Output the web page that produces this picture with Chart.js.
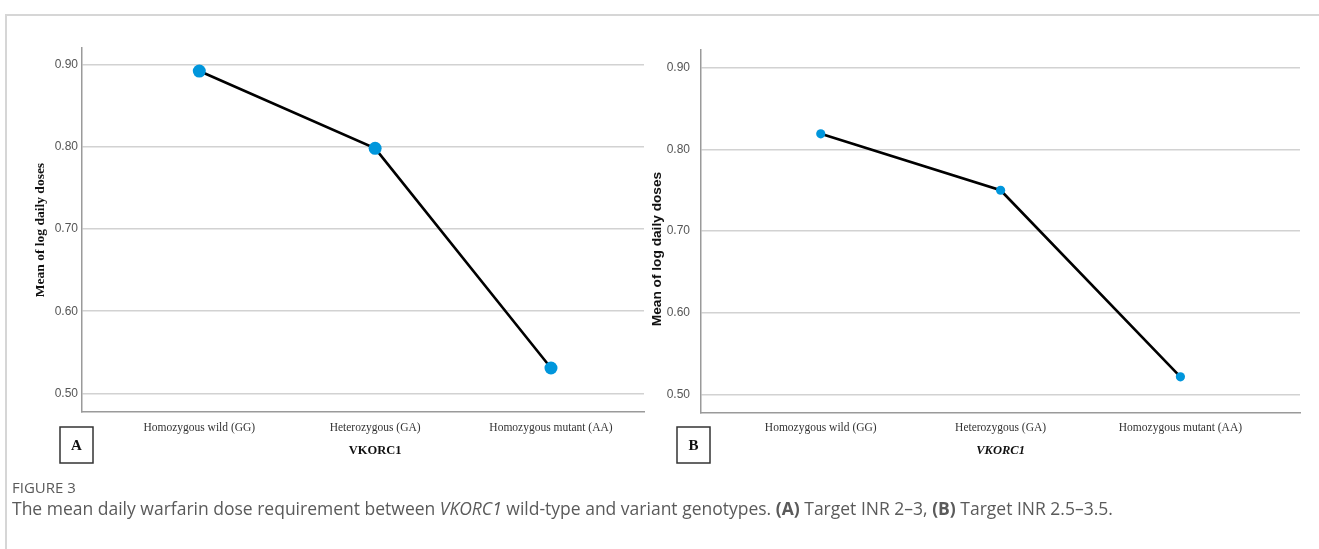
<!DOCTYPE html>
<html>
<head>
<meta charset="utf-8">
<title>Figure 3 - VKORC1</title>
<script src="https://cdn.jsdelivr.net/npm/chart.js@4.4.1/dist/chart.umd.min.js"></script>
<style>
  html, body { margin: 0; padding: 0; background: #fff; }
  body { width: 1319px; height: 549px; position: relative; overflow: hidden; font-family: "Open Sans", sans-serif; }
  #frame { position: absolute; left: 5px; top: 14px; width: 1400px; height: 600px; border: 2px solid #d6d6d6; }
  .panel { position: absolute; top: 0; height: 480px; }
  #panelA { left: 0; width: 660px; }
  #panelB { left: 650px; width: 669px; }
  #figLabel { position: absolute; left: 12px; top: 477px; font-size: 15px; color: #5a5a5a; }
  #caption { position: absolute; left: 12px; top: 496px; font-size: 17.5px; color: #5a5a5a; white-space: nowrap; }
</style>
</head>
<body>
<div id="frame"></div>
<div class="panel" id="panelA"><canvas id="chartA"></canvas></div>
<div class="panel" id="panelB"><canvas id="chartB"></canvas></div>
<div id="figLabel">FIGURE 3</div>
<div id="caption">The mean daily warfarin dose requirement between <i>VKORC1</i> wild-type and variant genotypes. <b>(A)</b> Target INR 2&#8211;3, <b>(B)</b> Target INR 2.5&#8211;3.5.</div>

<script>
// values
const categories = ['Homozygous wild (GG)', 'Heterozygous (GA)', 'Homozygous mutant (AA)'];
const meansA = [0.892, 0.798, 0.531];   // Target INR 2-3
const meansB = [0.819, 0.750, 0.522];   // Target INR 2.5-3.5
const yTicks = [0.50, 0.60, 0.70, 0.80, 0.90];

// draws axis titles and the panel letter box
const panelText = {
  id: 'panelText',
  afterDraw(chart, args, o) {
    const ctx = chart.ctx;
    ctx.save();
    ctx.fillStyle = '#111';
    ctx.textAlign = 'center';
    ctx.textBaseline = 'middle';

    ctx.font = o.xTitleFont;
    const mid = Math.floor(categories.length / 2);
    ctx.fillText(o.xTitle, chart.scales.x.getPixelForValue(mid), o.xTitleY);

    ctx.save();
    ctx.translate(o.yTitleX, o.yTitleY);
    ctx.rotate(-Math.PI / 2);
    ctx.font = o.yTitleFont;
    ctx.fillText(o.yTitle, 0, 0);
    ctx.restore();

    const [bx, by, bw, bh] = o.box;
    ctx.strokeStyle = '#333';
    ctx.lineWidth = 1.5;
    ctx.strokeRect(bx, by, bw, bh);
    ctx.font = 'bold 15px "Liberation Serif", serif';
    ctx.fillText(o.letter, bx + bw / 2, by + bh / 2 + 1);
    ctx.restore();
  }
};

function makePanel(id, values, cfg) {
  const ctx = document.getElementById(id).getContext('2d');
  return new Chart(ctx, {
    type: 'line',
    data: {
      datasets: [{
        data: values.map((v, i) => ({ x: i, y: v })),
        borderColor: '#000',
        borderWidth: 2.6,
        pointBackgroundColor: '#0096dc',
        pointBorderColor: '#0096dc',
        pointBorderWidth: 0,
        pointRadius: cfg.pointRadius,
        tension: 0,
        fill: false
      }]
    },
    options: {
      responsive: true,
      maintainAspectRatio: false,
      animation: false,
      layout: { padding: { top: cfg.padTop, right: cfg.padRight, left: 0, bottom: 0 } },
      plugins: {
        legend: { display: false },
        tooltip: { enabled: false },
        panelText: cfg.text
      },
      scales: {
        x: {
          type: 'linear',
          min: cfg.xMin,
          max: cfg.xMax,
          afterBuildTicks: s => { s.ticks = categories.map((c, i) => ({ value: i })); },
          afterFit: s => { s.height = cfg.xAxisHeight; },
          grid: { display: false },
          border: { display: true, color: '#9a9a9a', width: 1.5 },
          ticks: {
            autoSkip: false,
            maxRotation: 0,
            padding: 1,
            color: '#333',
            font: { family: '"Liberation Serif", serif', size: 11.5 },
            callback: v => categories[v]
          }
        },
        y: {
          min: cfg.yMin,
          max: cfg.yMax,
          afterBuildTicks: s => { s.ticks = yTicks.map(v => ({ value: v })); },
          afterFit: s => { s.width = cfg.yAxisWidth; },
          grid: { color: '#d2d2d2', lineWidth: 1.5, drawTicks: false },
          border: { display: true, color: '#9a9a9a', width: 1.5 },
          ticks: {
            padding: cfg.tickPad,
            color: '#555',
            font: { family: '"Liberation Sans Narrow", "Liberation Sans", sans-serif', size: 12 },
            callback: v => v.toFixed(2)
          }
        }
      }
    },
    plugins: [panelText]
  });
}

makePanel('chartA', meansA, {
  pointRadius: 6.5,
  padTop: 48, padRight: 16,
  xMin: -0.667, xMax: 2.529,
  yMin: 0.4775, yMax: 0.920,
  xAxisHeight: 68, yAxisWidth: 82, tickPad: 4,
  text: {
    xTitle: 'VKORC1', xTitleFont: 'bold 12.5px "Liberation Serif", serif', xTitleY: 451,
    yTitle: 'Mean of log daily doses', yTitleFont: 'bold 13.5px "Liberation Serif", serif',
    yTitleX: 41, yTitleY: 230,
    letter: 'A', box: [60, 427, 33, 36]
  }
});

makePanel('chartB', meansB, {
  pointRadius: 4.6,
  padTop: 50, padRight: 19,
  xMin: -0.666, xMax: 2.665,
  yMin: 0.4784, yMax: 0.9214,
  xAxisHeight: 67.5, yAxisWidth: 51, tickPad: 11,
  text: {
    xTitle: 'VKORC1', xTitleFont: 'italic bold 12.5px "Liberation Serif", serif', xTitleY: 451,
    yTitle: 'Mean of log daily doses', yTitleFont: 'bold 13.7px "Liberation Sans", Arial, sans-serif',
    yTitleX: 7, yTitleY: 249,
    letter: 'B', box: [27, 427, 33, 36]
  }
});
</script>
</body>
</html>
